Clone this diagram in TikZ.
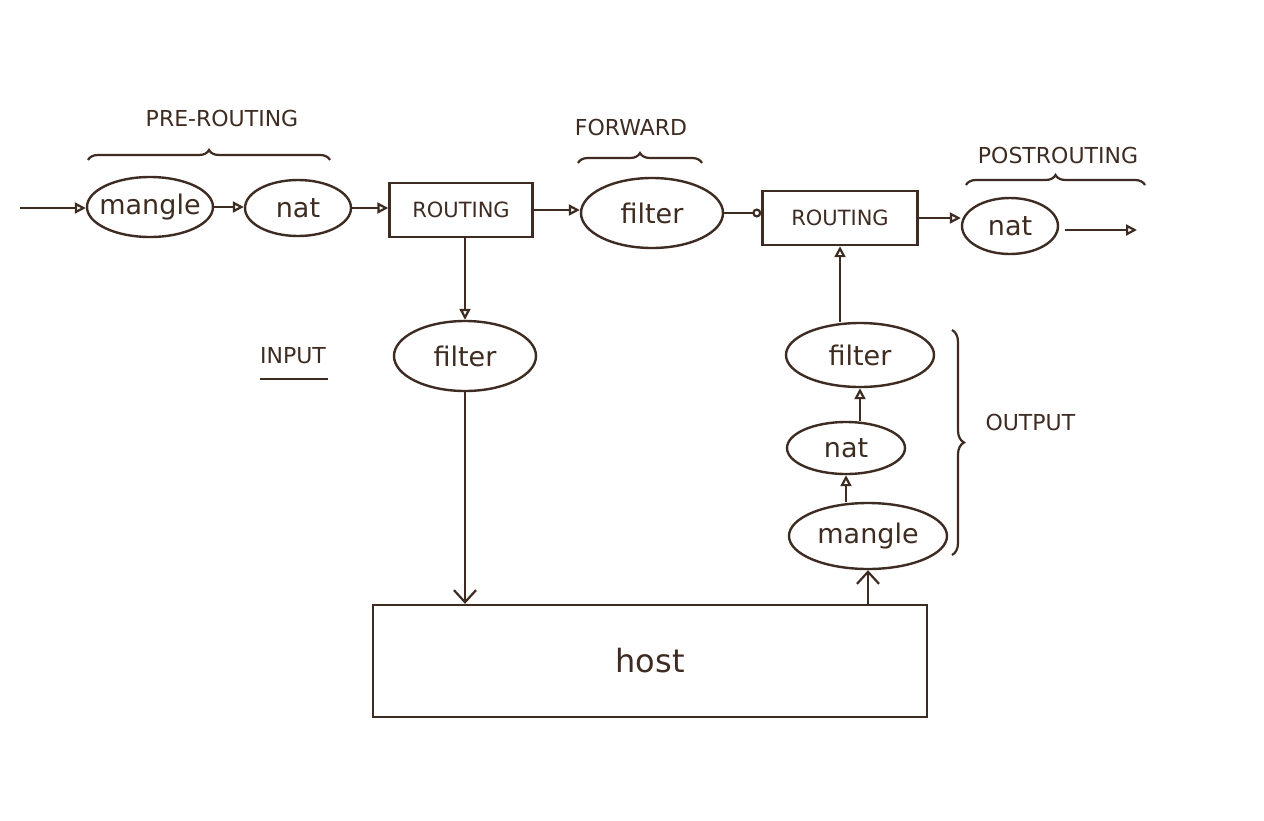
\documentclass[tikz,border=0pt]{standalone}
\usepackage{fontspec}
\setmainfont{DejaVu Sans}
\usetikzlibrary{arrows.meta,decorations.pathreplacing,shapes.geometric}
\definecolor{ink}{RGB}{62,44,34}
\tikzset{
  oval/.style={ellipse,draw=ink,line width=2.4pt,inner sep=-8pt,font=\fontsize{27}{29}\selectfont,text=ink},
  rbox/.style={rectangle,draw=ink,line width=2.4pt,inner sep=0pt,font=\fontsize{21}{23}\selectfont,text=ink},
  conn/.style={draw=ink,line width=2.2pt,-{Triangle[open,length=11pt,width=11pt]}},
  connc/.style={draw=ink,line width=2.2pt,-{Circle[open,length=9pt]}},
  connv/.style={draw=ink,line width=2.2pt,-{Straight Barb[length=12pt,width=22pt]}},
  lab/.style={text=ink,font=\fontsize{22}{24}\selectfont},
  brc/.style={draw=ink,line width=2.2pt,decorate,decoration={brace,amplitude=10pt}}
}
\begin{document}
\begin{tikzpicture}[x=1pt,y=-1pt]
\useasboundingbox (0,0) rectangle (1264,820);
\fill[white] (0,0) rectangle (1264,820);
% top row
\coordinate (in) at (20,208);
\node[oval,minimum width=126pt,minimum height=60pt] (mangle1) at (150,207) {mangle};
\node[oval,minimum width=106pt,minimum height=56pt] (nat1) at (298,208) {nat};
\node[rbox,minimum width=143pt,minimum height=54pt] (rout1) at (461,210) {ROUTING};
\node[oval,minimum width=142pt,minimum height=70pt] (filterF) at (652,213) {filter};
\node[rbox,minimum width=155pt,minimum height=54pt] (rout2) at (840,218) {ROUTING};
\node[oval,minimum width=96pt,minimum height=56pt] (nat2) at (1010,226) {nat};
\coordinate (out) at (1137,230);
% input
\node[oval,minimum width=142pt,minimum height=70pt] (filterI) at (465,356) {filter};
\node[lab] (inputlab) at (293,356) {INPUT};
\draw[ink,line width=2.2pt] (260,379) -- (328,379);
% host
\node[rbox,minimum width=554pt,minimum height=112pt,font=\fontsize{32}{34}\selectfont] (host) at (650,661) {host};
% output column
\node[oval,minimum width=148pt,minimum height=64pt] (filterO) at (860,355) {filter};
\node[oval,minimum width=118pt,minimum height=52pt] (natO) at (846,448) {nat};
\node[oval,minimum width=158pt,minimum height=66pt] (mangleO) at (868,536) {mangle};
% labels
\node[lab] (prelab) at (222,118) {PRE-ROUTING};
\node[lab] (fwdlab) at (631,127) {FORWARD};
\node[lab] (postlab) at (1058,155) {POSTROUTING};
\node[lab,anchor=west] (outlab) at (982,422) {OUTPUT};
% braces
\draw[brc] (88,160) -- (330,160);
\draw[brc] (578,163) -- (702,163);
\draw[brc] (966,185) -- (1145,185);
\draw[brc,decoration={brace,amplitude=12pt}] (952,330) -- (952,555);
% connectors
\draw[conn] (in) -- (in -| mangle1.west);
\draw[conn] (mangle1.east) -- (mangle1.east -| nat1.west);
\draw[conn] (nat1.east) -- (nat1.east -| rout1.west);
\draw[conn] (rout1.east) -- (rout1.east -| filterF.west);
\draw[connc] (filterF.east) -- (filterF.east -| rout2.west);
\draw[conn] (rout2.east) -- (rout2.east -| nat2.west);
\draw[conn] (1065,230) -- (out);
\draw[conn] (rout1.south -| filterI.north) -- (filterI.north);
\draw[connv] (filterI.south) -- (host.north -| filterI.south);
\draw[connv] (host.north -| mangleO.south) -- (mangleO.south);
\draw[conn] (mangleO.north -| natO.south) -- (natO.south);
\draw[conn] (natO.north -| filterO.south) -- (filterO.south);
\draw[conn] (filterO.north -| rout2.south) -- (rout2.south);
\end{tikzpicture}
\end{document}
